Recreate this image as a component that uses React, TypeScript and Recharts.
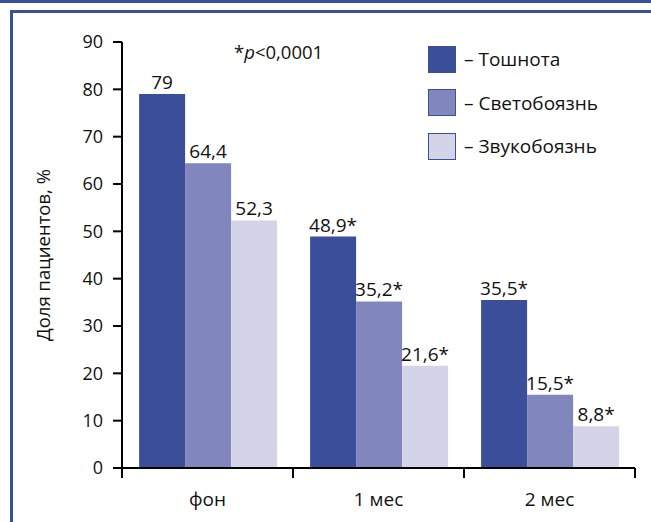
import { BarChart, Bar, XAxis, YAxis, LabelList, Legend } from 'recharts';

const CATEGORIES = ['фон', '1 мес', '2 мес'];
const NAUSEA = [79, 48.9, 35.5];
const PHOTOPHOBIA = [64.4, 35.2, 15.5];
const PHONOPHOBIA = [52.3, 21.6, 8.8];
// звёздочка — достоверное отличие от фона
const SIGNIFICANT = [false, true, true];
const Y_TICKS = [0, 10, 20, 30, 40, 50, 60, 70, 80, 90];

const SERIES = [
  { key: 'nausea', name: 'Тошнота', color: '#3b4e9a' },
  { key: 'photo', name: 'Светобоязнь', color: '#8186bd' },
  { key: 'phono', name: 'Звукобоязнь', color: '#d3d4e8' },
];

const fmt = (v: number, star: boolean) => String(v).replace('.', ',') + (star ? '*' : '');

const data = CATEGORIES.map((name, i) => ({
  name,
  nausea: NAUSEA[i],
  photo: PHOTOPHOBIA[i],
  phono: PHONOPHOBIA[i],
  nauseaLabel: fmt(NAUSEA[i], SIGNIFICANT[i]),
  photoLabel: fmt(PHOTOPHOBIA[i], SIGNIFICANT[i]),
  phonoLabel: fmt(PHONOPHOBIA[i], SIGNIFICANT[i]),
}));

const W = 651;
const H = 522;
const MARGIN = { top: 42, right: 16, bottom: 0, left: 0 };
const Y_W = 122;
const X_H = 54;
const BAND = (W - MARGIN.left - MARGIN.right - Y_W) / CATEGORIES.length;
const FONT = '"Open Sans", sans-serif';
const INK = '#111';
const BORDER = '#3b4f9b';

function CategoryTick(props: any) {
  const { x, y, payload, index } = props;
  const half = BAND / 2;
  return (
    <g>
      <line x1={x - half} x2={x - half} y1={y} y2={y + 10} stroke="#000" strokeWidth={2} />
      {index === CATEGORIES.length - 1 && (
        <line x1={x + half} x2={x + half} y1={y} y2={y + 10} stroke="#000" strokeWidth={2} />
      )}
      <text x={x} y={y + 38} textAnchor="middle" fill={INK} fontSize={19} fontFamily={FONT}>
        {payload.value}
      </text>
    </g>
  );
}

function renderLegend() {
  return (
    <div style={{ fontFamily: FONT, fontSize: 19, color: INK }}>
      {SERIES.map((s) => (
        <div key={s.key} style={{ display: 'flex', alignItems: 'center', height: 28, marginBottom: 15.5 }}>
          <span
            style={{
              width: 26,
              height: 25,
              background: s.color,
              border: `1.5px solid ${BORDER}`,
              display: 'inline-block',
            }}
          />
          <span style={{ marginLeft: 8 }}>– {s.name}</span>
        </div>
      ))}
    </div>
  );
}

export default function App() {
  return (
    <div style={{ position: 'absolute', left: 0, top: 0, width: W, height: H, background: '#fff' }}>
      {/* рамка */}
      <div style={{ position: 'absolute', left: 0, top: 0, width: W, height: 3, background: BORDER }} />
      <div style={{ position: 'absolute', left: 10, top: 10, width: W - 10, height: 2.5, background: BORDER }} />
      <div style={{ position: 'absolute', left: 10, top: 10, width: 2.5, height: H - 10, background: BORDER }} />

      <div style={{ position: 'absolute', left: 0, top: 0 }}>
        <BarChart width={W} height={H} data={data} margin={MARGIN} barCategoryGap="10%" barGap={0}>
          <YAxis
            width={Y_W}
            domain={[0, 90]}
            ticks={Y_TICKS}
            interval={0}
            tickSize={9}
            tickMargin={10}
            axisLine={{ stroke: '#000', strokeWidth: 2 }}
            tickLine={{ stroke: '#000', strokeWidth: 2 }}
            tick={{ fill: INK, fontSize: 18, fontFamily: FONT }}
            label={{
              content: ({ viewBox }: any) => {
                const cy = viewBox.y + viewBox.height / 2;
                return (
                  <text
                    x={42}
                    y={cy}
                    transform={`rotate(-90 42 ${cy})`}
                    textAnchor="middle"
                    dominantBaseline="central"
                    fill={INK}
                    fontSize={18.5}
                    fontFamily={FONT}
                  >
                    Доля пациентов, %
                  </text>
                );
              },
            }}
          />
          <XAxis
            dataKey="name"
            height={X_H}
            interval={0}
            tickSize={0}
            tickMargin={0}
            tickLine={false}
            axisLine={{ stroke: '#000', strokeWidth: 2 }}
            tick={<CategoryTick />}
          />
          <Legend
            layout="vertical"
            align="center"
            verticalAlign="middle"
            content={renderLegend}
            wrapperStyle={{ left: 428, top: 45, width: 'auto' }}
          />
          {SERIES.map((s) => (
            <Bar key={s.key} dataKey={s.key} name={s.name} fill={s.color} isAnimationActive={false}>
              <LabelList
                dataKey={`${s.key}Label`}
                position="top"
                offset={5}
                fill={INK}
                fontSize={19}
                fontFamily={FONT}
              />
            </Bar>
          ))}
        </BarChart>
      </div>

      <div
        style={{
          position: 'absolute',
          left: 234,
          top: 40,
          fontFamily: FONT,
          fontSize: 18.5,
          color: INK,
          lineHeight: '24px',
        }}
      >
        *<i>p</i>&lt;0,0001
      </div>
    </div>
  );
}
